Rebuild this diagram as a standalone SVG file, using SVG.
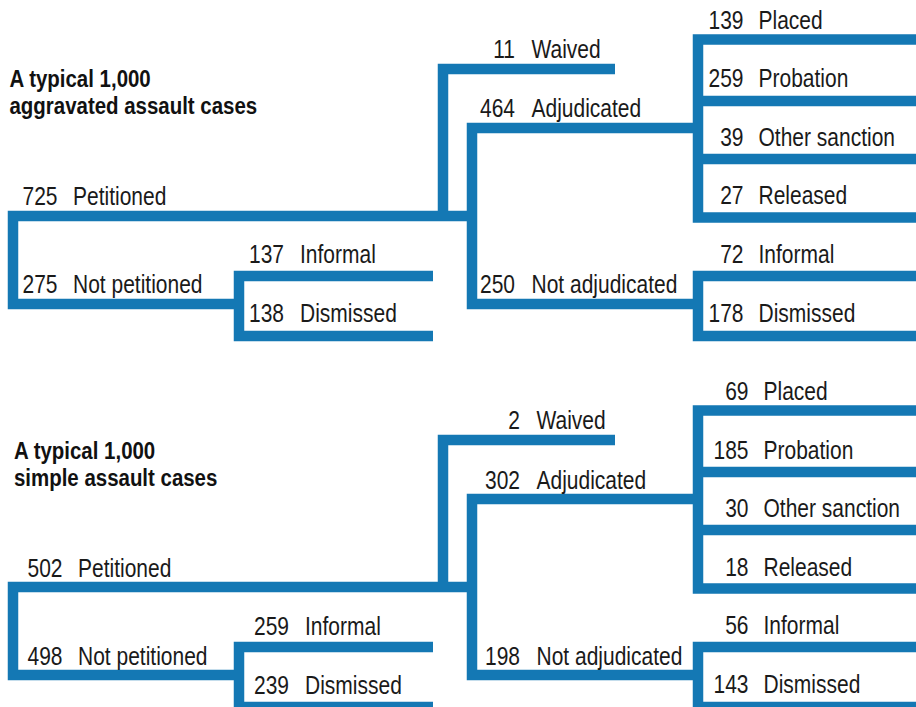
<svg xmlns="http://www.w3.org/2000/svg" width="916" height="707" viewBox="0 0 916 707">
<style>
.ln{fill:none;stroke:#1478b4;stroke-width:10.5;stroke-linejoin:miter;stroke-linecap:butt}
.t{font-family:"Liberation Sans",Arial,sans-serif;font-size:25px;fill:#1a1a1a}
.n{text-anchor:end}
.h{font-family:"Liberation Sans",Arial,sans-serif;font-size:23.5px;font-weight:bold;fill:#111}
</style>
<defs>
<g id="tree">
<path class="ln" d="M472,216 H13 V304 H239"/>
<path class="ln" d="M433,276 H239 V336 H433"/>
<path class="ln" d="M443,216 V69 H615"/>
<path class="ln" d="M698,128 H472 V304 H698"/>
<path class="ln" d="M916,39.5 H698 V217.5 H916"/>
<path class="ln" d="M698,101 H916 M698,159 H916"/>
<path class="ln" d="M916,276 H698 V336 H916"/>
</g>
</defs>
<g id="connectors">
<use href="#tree"/>
<use href="#tree" transform="translate(0,371)"/>
</g>
<g id="aggravated">
<g id="agg-title">
<text class="h" transform="translate(9.5,86.7) scale(0.87,1)">A typical 1,000</text>
<text class="h" transform="translate(9.5,114.3) scale(0.87,1)">aggravated assault cases</text>
</g>
<g id="agg-petitioned"><text class="t n" transform="translate(57.5,205) scale(0.84,1)">725</text><text class="t" transform="translate(73,205) scale(0.84,1)">Petitioned</text></g>
<g id="agg-notpetitioned"><text class="t n" transform="translate(57.5,293) scale(0.84,1)">275</text><text class="t" transform="translate(73,293) scale(0.84,1)">Not petitioned</text></g>
<g id="agg-np-informal"><text class="t n" transform="translate(284,263) scale(0.84,1)">137</text><text class="t" transform="translate(300,263) scale(0.84,1)">Informal</text></g>
<g id="agg-np-dismissed"><text class="t n" transform="translate(284,322) scale(0.84,1)">138</text><text class="t" transform="translate(300,322) scale(0.84,1)">Dismissed</text></g>
<g id="agg-waived"><text class="t n" transform="translate(515,57.5) scale(0.84,1)">11</text><text class="t" transform="translate(531.5,57.5) scale(0.84,1)">Waived</text></g>
<g id="agg-adjudicated"><text class="t n" transform="translate(515,117) scale(0.84,1)">464</text><text class="t" transform="translate(531.5,117) scale(0.84,1)">Adjudicated</text></g>
<g id="agg-notadjudicated"><text class="t n" transform="translate(515,293.3) scale(0.84,1)">250</text><text class="t" transform="translate(531.5,293.3) scale(0.84,1)">Not adjudicated</text></g>
<g id="agg-placed"><text class="t n" transform="translate(743.5,28.5) scale(0.84,1)">139</text><text class="t" transform="translate(758.5,28.5) scale(0.84,1)">Placed</text></g>
<g id="agg-probation"><text class="t n" transform="translate(743.5,87.3) scale(0.84,1)">259</text><text class="t" transform="translate(758.5,87.3) scale(0.84,1)">Probation</text></g>
<g id="agg-other"><text class="t n" transform="translate(743.5,145.7) scale(0.84,1)">39</text><text class="t" transform="translate(758.5,145.7) scale(0.84,1)">Other sanction</text></g>
<g id="agg-released"><text class="t n" transform="translate(743.5,204) scale(0.84,1)">27</text><text class="t" transform="translate(758.5,204) scale(0.84,1)">Released</text></g>
<g id="agg-na-informal"><text class="t n" transform="translate(743.5,262.5) scale(0.84,1)">72</text><text class="t" transform="translate(758.5,262.5) scale(0.84,1)">Informal</text></g>
<g id="agg-na-dismissed"><text class="t n" transform="translate(743.5,321.7) scale(0.84,1)">178</text><text class="t" transform="translate(758.5,321.7) scale(0.84,1)">Dismissed</text></g>
</g>
<g id="simple">
<g id="sim-title">
<text class="h" transform="translate(14,458.5) scale(0.87,1)">A typical 1,000</text>
<text class="h" transform="translate(14,486) scale(0.87,1)">simple assault cases</text>
</g>
<g id="sim-petitioned"><text class="t n" transform="translate(62.5,576.5) scale(0.84,1)">502</text><text class="t" transform="translate(78,576.5) scale(0.84,1)">Petitioned</text></g>
<g id="sim-notpetitioned"><text class="t n" transform="translate(62.5,664.5) scale(0.84,1)">498</text><text class="t" transform="translate(78,664.5) scale(0.84,1)">Not petitioned</text></g>
<g id="sim-np-informal"><text class="t n" transform="translate(289,634.5) scale(0.84,1)">259</text><text class="t" transform="translate(305,634.5) scale(0.84,1)">Informal</text></g>
<g id="sim-np-dismissed"><text class="t n" transform="translate(289,693.5) scale(0.84,1)">239</text><text class="t" transform="translate(305,693.5) scale(0.84,1)">Dismissed</text></g>
<g id="sim-waived"><text class="t n" transform="translate(520,429) scale(0.84,1)">2</text><text class="t" transform="translate(536.5,429) scale(0.84,1)">Waived</text></g>
<g id="sim-adjudicated"><text class="t n" transform="translate(520,488.5) scale(0.84,1)">302</text><text class="t" transform="translate(536.5,488.5) scale(0.84,1)">Adjudicated</text></g>
<g id="sim-notadjudicated"><text class="t n" transform="translate(520,664.8) scale(0.84,1)">198</text><text class="t" transform="translate(536.5,664.8) scale(0.84,1)">Not adjudicated</text></g>
<g id="sim-placed"><text class="t n" transform="translate(748.5,400) scale(0.84,1)">69</text><text class="t" transform="translate(763.5,400) scale(0.84,1)">Placed</text></g>
<g id="sim-probation"><text class="t n" transform="translate(748.5,458.8) scale(0.84,1)">185</text><text class="t" transform="translate(763.5,458.8) scale(0.84,1)">Probation</text></g>
<g id="sim-other"><text class="t n" transform="translate(748.5,517.2) scale(0.84,1)">30</text><text class="t" transform="translate(763.5,517.2) scale(0.84,1)">Other sanction</text></g>
<g id="sim-released"><text class="t n" transform="translate(748.5,575.5) scale(0.84,1)">18</text><text class="t" transform="translate(763.5,575.5) scale(0.84,1)">Released</text></g>
<g id="sim-na-informal"><text class="t n" transform="translate(748.5,634) scale(0.84,1)">56</text><text class="t" transform="translate(763.5,634) scale(0.84,1)">Informal</text></g>
<g id="sim-na-dismissed"><text class="t n" transform="translate(748.5,693.2) scale(0.84,1)">143</text><text class="t" transform="translate(763.5,693.2) scale(0.84,1)">Dismissed</text></g>
</g>
</svg>
